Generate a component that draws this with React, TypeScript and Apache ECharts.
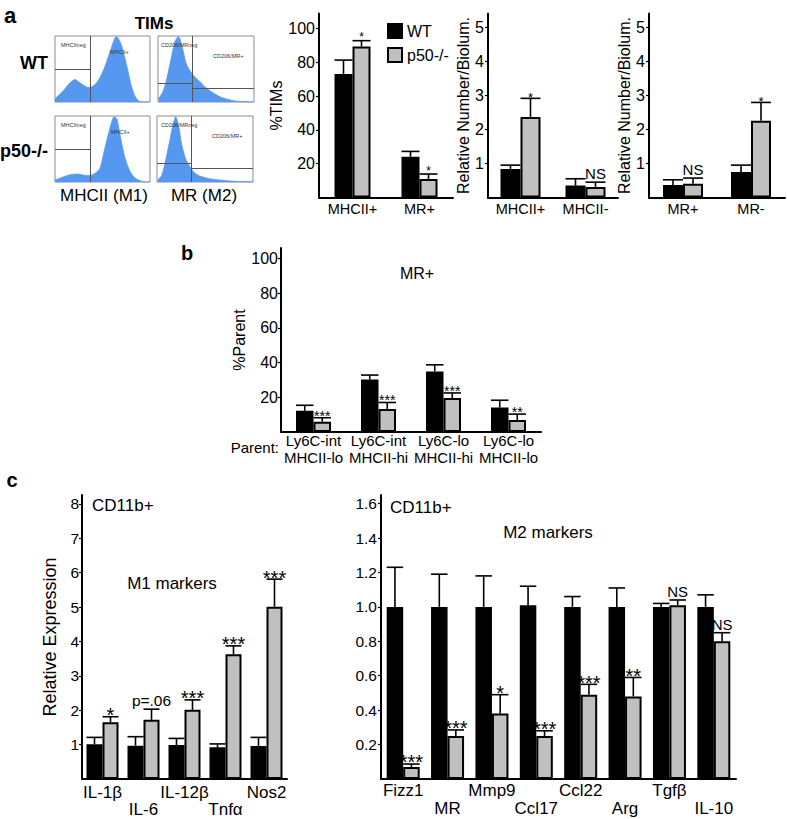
import React, { useEffect, useRef } from 'react';
import * as echarts from 'echarts';

const FONT = '"Liberation Sans", Arial, Helvetica, sans-serif';
const BLUE = '#5698f0';
const GRAY = '#c0c0c0';

// ---------- Panel a: bar charts ----------
const a1Categories = ['MHCII+', 'MR+'];
const a1WT = [73.2, 24.1];
const a1WTErr = [81.4, 27.3];
const a1KO = [89.5, 10.9];
const a1KOErr = [92.9, 13.9];
const a1Sig = ['*', '*'];

const a2Categories = ['MHCII+', 'MHCII-'];
const a2WT = [0.84, 0.35];
const a2WTErr = [0.95, 0.55];
const a2KO = [2.36, 0.31];
const a2KOErr = [2.91, 0.45];
const a2Sig = ['*', 'NS'];

const a3Categories = ['MR+', 'MR-'];
const a3WT = [0.37, 0.75];
const a3WTErr = [0.52, 0.95];
const a3KO = [0.4, 2.25];
const a3KOErr = [0.57, 2.79];
const a3Sig = ['NS', '*'];

// ---------- Panel b ----------
const bCategories = ['Ly6C-int\nMHCII-lo', 'Ly6C-int\nMHCII-hi', 'Ly6C-lo\nMHCII-hi', 'Ly6C-lo\nMHCII-lo'];
const bWT = [12.2, 30.3, 34.9, 14.1];
const bWTErr = [15.4, 32.8, 38.7, 18.3];
const bKO = [5.9, 13.3, 19.6, 6.9];
const bKOErr = [8.2, 17.0, 22.5, 10.3];
const bSig = ['***', '***', '***', '**'];

// ---------- Panel c ----------
const c1Categories = ['IL-1β', 'IL-6', 'IL-12β', 'Tnfα', 'Nos2'];
const c1WT = [1.01, 0.97, 0.99, 0.92, 0.96];
const c1WTErr = [1.21, 1.23, 1.18, 1.02, 1.21];
const c1KO = [1.65, 1.72, 2.01, 3.63, 5.01];
const c1KOErr = [1.81, 2.03, 2.3, 3.87, 5.81];
const c1Sig = ['*', 'p=.06', '***', '***', '***'];

const c2Categories = ['Fizz1', 'MR', 'Mmp9', 'Ccl17', 'Ccl22', 'Arg', 'Tgfβ', 'IL-10'];
const c2WT = [1.0, 1.0, 1.0, 1.01, 1.0, 1.0, 1.0, 1.0];
const c2WTErr = [1.23, 1.19, 1.18, 1.12, 1.06, 1.11, 1.02, 1.07];
const c2KO = [0.07, 0.25, 0.38, 0.25, 0.49, 0.48, 1.01, 0.8];
const c2KOErr = [0.087, 0.285, 0.49, 0.28, 0.55, 0.59, 1.04, 0.85];
const c2Sig = ['***', '***', '*', '***', '***', '**', 'NS', 'NS'];

// ---------- Flow histograms (relative intensity, relative count) ----------
const histWTMhc = [[0, 5], [5.3, 12], [10.5, 20], [15.8, 29], [21, 34], [26.3, 29], [31.6, 24], [34.7, 22], [38.9, 23], [43.2, 28], [47.4, 37], [51.6, 50], [55.8, 67], [60, 85], [64.2, 99], [66.3, 97], [69.5, 88], [73.7, 66], [76.8, 47], [80, 26], [83.2, 12], [86.3, 4], [89.5, 0.5], [94.7, 0], [100, 0]];
const histWTMr = [[0.7, 5], [5, 15], [8.8, 33], [14, 68], [17.5, 91], [21, 99], [22.6, 97], [25.8, 80], [29, 60], [33, 48], [38.3, 38], [43.6, 31], [48.8, 23], [56, 15], [64.4, 8], [72.8, 4], [80, 1.5], [90.6, 0.3], [100, 0]];
const histKOMhc = [[0, 3], [7.4, 7], [15.8, 11], [24.2, 12], [31.6, 10], [36.8, 10], [42, 13], [47.4, 21], [52.6, 52], [57.9, 82], [62.1, 99], [65.3, 95], [68.4, 72], [73.7, 36], [79, 16], [84.2, 6], [89.5, 2], [94.7, 0], [100, 0]];
const histKOMr = [[0.7, 3], [4.9, 10], [8, 26], [13.2, 62], [16.4, 85], [19.5, 99], [22.6, 85], [25.7, 57], [29.9, 35], [34, 24], [39, 14], [44.5, 9], [54.9, 5], [65.3, 3], [80.9, 1], [96.6, 0.2], [100, 0]];

type Panel = {
  cats: string[]; wt: number[]; wtErr: number[]; ko: number[]; koErr: number[]; sig: string[];
  left: number; top: number; width: number; height: number; yMax: number; ticks: number[];
  decimals: number; bw: number; yName?: string; nameGap?: number; nameSize?: number;
  tickSize: number; labelSize: number; labelLH: number; labelMargin: number; alternate?: boolean;
  starSize: number; starDy: number; textSize: number; textDy: number; yLabelMargin: number;
};

const panels: Panel[] = [
  { cats: a1Categories, wt: a1WT, wtErr: a1WTErr, ko: a1KO, koErr: a1KOErr, sig: a1Sig,
    left: 319, top: 13.5, width: 134, height: 184, yMax: 109, ticks: [20, 40, 60, 80, 100], decimals: 0, bw: 18,
    yName: '%TIMs', nameGap: 22, nameSize: 16, tickSize: 16, labelSize: 14.5, labelLH: 15, labelMargin: 4,
    starSize: 12, starDy: -3.5, textSize: 15, textDy: -8.5, yLabelMargin: 4 },
  { cats: a2Categories, wt: a2WT, wtErr: a2WTErr, ko: a2KO, koErr: a2KOErr, sig: a2Sig,
    left: 488, top: 13.5, width: 130, height: 184, yMax: 5.4, ticks: [1, 2, 3, 4, 5], decimals: 0, bw: 20,
    yName: 'Relative Number/Biolum.', nameGap: 15, nameSize: 16, tickSize: 16, labelSize: 14.5, labelLH: 15, labelMargin: 4,
    starSize: 13, starDy: -1, textSize: 15, textDy: -8.5, yLabelMargin: 4 },
  { cats: a3Categories, wt: a3WT, wtErr: a3WTErr, ko: a3KO, koErr: a3KOErr, sig: a3Sig,
    left: 649, top: 13.5, width: 136, height: 184, yMax: 5.4, ticks: [1, 2, 3, 4, 5], decimals: 0, bw: 20,
    yName: 'Relative Number/Biolum.', nameGap: 14, nameSize: 16, tickSize: 16, labelSize: 14.5, labelLH: 15, labelMargin: 4,
    starSize: 13, starDy: -1, textSize: 15, textDy: -8.5, yLabelMargin: 4 },
  { cats: bCategories, wt: bWT, wtErr: bWTErr, ko: bKO, koErr: bKOErr, sig: bSig,
    left: 281, top: 248, width: 260, height: 184, yMax: 106, ticks: [20, 40, 60, 80, 100], decimals: 0, bw: 17.5,
    yName: '%Parent', nameGap: 23, nameSize: 16, tickSize: 16, labelSize: 15, labelLH: 17, labelMargin: 0,
    starSize: 14, starDy: -2, textSize: 15, textDy: -8.5, yLabelMargin: 3 },
  { cats: c1Categories, wt: c1WT, wtErr: c1WTErr, ko: c1KO, koErr: c1KOErr, sig: c1Sig,
    left: 82, top: 495, width: 205, height: 284, yMax: 8.256, ticks: [1, 2, 3, 4, 5, 6, 7, 8], decimals: 0, bw: 16,
    yName: 'Relative Expression', nameGap: 23, nameSize: 18, tickSize: 15.5, labelSize: 17, labelLH: 17, labelMargin: 5, alternate: true,
    starSize: 20, starDy: -1.6, textSize: 15.5, textDy: -8.5, yLabelMargin: 3 },
  { cats: c2Categories, wt: c2WT, wtErr: c2WTErr, ko: c2KO, koErr: c2KOErr, sig: c2Sig,
    left: 381, top: 495, width: 355, height: 284, yMax: 1.65, ticks: [0.2, 0.4, 0.6, 0.8, 1.0, 1.2, 1.4, 1.6], decimals: 1, bw: 16.5,
    tickSize: 15.5, labelSize: 17, labelLH: 18, labelMargin: 2, alternate: true,
    starSize: 20, starDy: -1.6, textSize: 15, textDy: -8.5, yLabelMargin: 4 },
];

type Hist = { data: number[][]; left: number; top: number; width: number; height: number; gates: number[][] };
const hists: Hist[] = [
  { data: histWTMhc, left: 55, top: 36, width: 95, height: 66, gates: [[37.6, 0, 37.6, 100], [0, 49.8, 37.6, 49.8]] },
  { data: histWTMr, left: 158, top: 36, width: 96, height: 66, gates: [[36, 0, 36, 100], [0, 28, 36, 28], [36, 20.4, 100, 20.4]] },
  { data: histKOMhc, left: 55, top: 116, width: 95, height: 66, gates: [[36.8, 0, 36.8, 100], [0, 49.2, 36.8, 49.2]] },
  { data: histKOMr, left: 157, top: 116, width: 96, height: 66, gates: [[35.8, 0, 35.8, 100], [0, 27.9, 35.8, 27.9], [35.8, 20.2, 100, 20.2]] },
];

function txt(text: string, x: number, y: number, size: number, opts: any = {}) {
  return {
    type: 'text', x, y, z: 100, silent: true,
    style: {
      text, fill: opts.fill || '#000', fontSize: size, fontFamily: FONT,
      fontWeight: opts.bold ? 'bold' : 'normal', align: opts.align || 'left', verticalAlign: 'middle',
    },
  };
}

function buildOption() {
  const grid: any[] = [];
  const xAxis: any[] = [];
  const yAxis: any[] = [];
  const series: any[] = [];

  panels.forEach((p, i) => {
    grid.push({ left: p.left, top: p.top, width: p.width, height: p.height, containLabel: false, outerBoundsMode: 'none' });
    xAxis.push({
      gridIndex: i, type: 'category', data: p.cats,
      axisLine: { show: true, lineStyle: { color: '#000', width: 2 } },
      axisTick: { show: false },
      axisLabel: {
        interval: 0, color: '#000', fontFamily: FONT, fontSize: p.labelSize, lineHeight: p.labelLH, margin: p.labelMargin,
        formatter: p.alternate ? (v: string, idx: number) => (idx % 2 ? '\n' + v : v) : undefined,
      },
    });
    yAxis.push({
      gridIndex: i, type: 'value', min: 0, max: p.yMax,
      name: p.yName || '', nameLocation: 'middle', nameGap: p.nameGap || 0, nameRotate: 90,
      nameTextStyle: { color: '#000', fontFamily: FONT, fontSize: p.nameSize || 16 },
      axisLine: { show: true, lineStyle: { color: '#000', width: 2 } },
      axisTick: { show: true, length: 3, lineStyle: { color: '#000', width: 1.2 }, customValues: p.ticks },
      axisLabel: {
        color: '#000', fontFamily: FONT, fontSize: p.tickSize, margin: p.yLabelMargin, customValues: p.ticks,
        formatter: (v: number) => v.toFixed(p.decimals),
      },
      splitLine: { show: false },
    });
    series.push({
      type: 'bar', name: 'WT', xAxisIndex: i, yAxisIndex: i, data: p.wt, barWidth: p.bw, barGap: '0%',
      itemStyle: { color: '#000', borderColor: '#000', borderWidth: 1.5 }, silent: true,
    });
    series.push({
      type: 'bar', name: 'p50-/-', xAxisIndex: i, yAxisIndex: i, data: p.ko, barWidth: p.bw, barGap: '0%',
      itemStyle: { color: GRAY, borderColor: '#000', borderWidth: 2 }, silent: true,
    });
    const errData: number[][] = [];
    p.wt.forEach((v, k) => errData.push([k, v, p.wtErr[k], 0, k]));
    p.ko.forEach((v, k) => errData.push([k, v, p.koErr[k], 1, k]));
    series.push({
      type: 'custom', xAxisIndex: i, yAxisIndex: i, silent: true, data: errData,
      encode: { x: 0, y: [1, 2] }, z: 5,
      renderItem: (_params: any, api: any) => {
        const cat = api.value(0);
        const g = api.value(3);
        const k = api.value(4);
        const c0 = api.coord([cat, api.value(1)]);
        const c1 = api.coord([cat, api.value(2)]);
        const x = c0[0] + (g === 0 ? -p.bw / 2 : p.bw / 2);
        const children: any[] = [
          { type: 'line', shape: { x1: x, y1: c0[1], x2: x, y2: c1[1] }, style: { stroke: '#000', lineWidth: 1.6 } },
          { type: 'line', shape: { x1: x - p.bw / 2, y1: c1[1], x2: x + p.bw / 2, y2: c1[1] }, style: { stroke: '#000', lineWidth: 1.6 } },
        ];
        const s = g === 1 ? p.sig[k] : '';
        if (s) {
          const isStar = /^\*+$/.test(s);
          children.push({
            type: 'text', x, y: c1[1] + (isStar ? p.starDy : p.textDy),
            style: {
              text: s, fill: '#000', fontFamily: FONT, fontSize: isStar ? p.starSize : p.textSize,
              align: 'center', verticalAlign: 'middle',
            },
          });
        }
        return { type: 'group', children };
      },
    });
  });

  hists.forEach((h, j) => {
    const gi = panels.length + j;
    grid.push({ left: h.left, top: h.top, width: h.width, height: h.height, show: true, borderColor: '#8a8a8a', borderWidth: 1, backgroundColor: 'transparent', containLabel: false, outerBoundsMode: 'none' });
    xAxis.push({ gridIndex: gi, type: 'value', min: 0, max: 100, show: false });
    yAxis.push({ gridIndex: gi, type: 'value', min: 0, max: 100, show: false });
    series.push({
      type: 'line', xAxisIndex: gi, yAxisIndex: gi, data: h.data, smooth: 0.2, symbol: 'none', silent: true,
      lineStyle: { color: BLUE, width: 0.8 }, areaStyle: { color: BLUE, opacity: 1 },
      markLine: {
        silent: true, symbol: ['none', 'none'], label: { show: false },
        lineStyle: { color: '#555', width: 1, type: 'solid' },
        data: h.gates.map((g) => [{ coord: [g[0], g[1]] }, { coord: [g[2], g[3]] }]),
      },
    });
  });

  const graphic: any[] = [
    txt('a', 4, 15, 22, { bold: true }),
    txt('TIMs', 154, 23, 17, { bold: true, align: 'center' }),
    txt('WT', 48, 63, 18, { bold: true, align: 'right' }),
    txt('p50-/-', 48, 151, 18, { bold: true, align: 'right' }),
    txt('MHCII (M1)', 104, 195, 17, { align: 'center' }),
    txt('MR (M2)', 204, 195, 17, { align: 'center' }),
    txt('MHCIIneg', 61, 45, 5.5, { fill: '#333' }),
    txt('MHCII+', 110, 52, 5.5, { fill: '#333' }),
    txt('CD206/MRneg', 161, 45, 5.5, { fill: '#333' }),
    txt('CD206/MR+', 213, 56, 5.5, { fill: '#333' }),
    txt('MHCIIneg', 61, 125, 5.5, { fill: '#333' }),
    txt('MHCII+', 111, 132, 5.5, { fill: '#333' }),
    txt('CD206/MRneg', 161, 125, 5.5, { fill: '#333' }),
    txt('CD206/MR+', 212, 136, 5.5, { fill: '#333' }),
    txt('b', 187, 253, 20, { bold: true, align: 'center' }),
    txt('MR+', 417, 273, 16, { align: 'center' }),
    txt('Parent:', 279, 447, 15, { align: 'right' }),
    txt('c', 12, 480, 20, { bold: true, align: 'center' }),
    txt('CD11b+', 92, 505, 17),
    txt('M1 markers', 172, 583, 17, { align: 'center' }),
    txt('CD11b+', 390, 507, 17),
    txt('M2 markers', 548, 532, 17, { align: 'center' }),
  ];

  return {
    animation: false,
    backgroundColor: '#fff',
    textStyle: { fontFamily: FONT },
    legend: {
      data: ['WT', 'p50-/-'], left: 382, top: 18, orient: 'vertical', icon: 'rect',
      itemWidth: 14, itemHeight: 14, itemGap: 8, selectedMode: false,
      textStyle: { color: '#000', fontSize: 16, fontFamily: FONT },
    },
    grid, xAxis, yAxis, series, graphic,
  };
}

export default function App() {
  const ref = useRef<HTMLDivElement>(null);
  useEffect(() => {
    document.body.style.margin = '0';
    const chart = echarts.init(ref.current!, undefined, { renderer: 'svg' });
    chart.setOption(buildOption() as any);
    return () => chart.dispose();
  }, []);
  return <div ref={ref} style={{ position: 'absolute', left: 0, top: 0, width: 787, height: 819 }} />;
}
